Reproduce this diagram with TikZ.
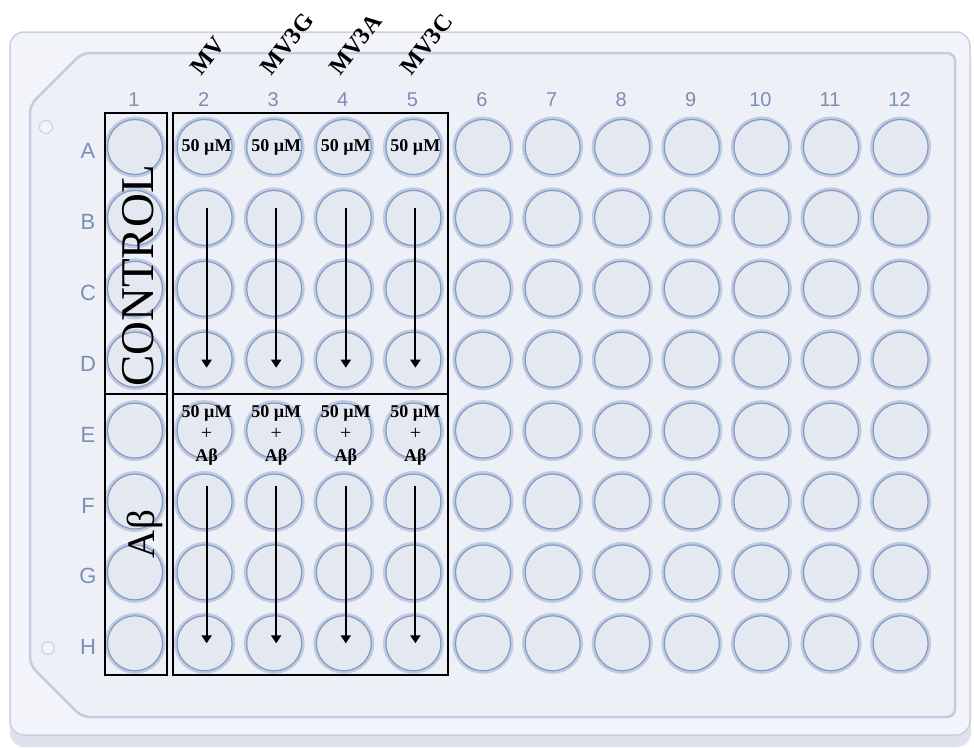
\documentclass[tikz,border=0pt]{standalone}
\usepackage{fontspec}
\setmainfont{Liberation Serif}
\setsansfont{Liberation Sans}
\usepackage{xcolor}
\usepackage{tikz}
\usetikzlibrary{arrows.meta, positioning}

\definecolor{plateside}{HTML}{DDE2EC}
\definecolor{platefill}{HTML}{F2F4F9}
\definecolor{plateedge}{HTML}{C8D0E2}
\definecolor{panelfill}{HTML}{EDF0F7}
\definecolor{paneledge}{HTML}{C3CCE0}
\definecolor{wellfill}{HTML}{E4E8F1}
\definecolor{wellring}{HTML}{8799BC}
\definecolor{wellhalo}{HTML}{BFCBE2}
\definecolor{labelblue}{HTML}{7B8FB5}

\begin{document}
\begin{tikzpicture}[x=1pt, y=-1pt,
  well/.style={circle, minimum size=55pt, inner sep=0pt, fill=wellfill,
               draw=wellring, line width=1.2pt,
               preaction={draw=wellhalo, line width=6pt}},
  collbl/.style={text=labelblue, font=\sffamily\fontsize{20}{22}\selectfont},
  rowlbl/.style={text=labelblue, font=\sffamily\fontsize{22}{24}\selectfont},
  drug/.style={font=\bfseries\fontsize{24}{26}\selectfont, rotate=52,
               anchor=base west, inner sep=0pt},
  conc/.style={font=\bfseries\fontsize{18}{22}\selectfont, align=center,
               inner sep=0pt},
  group/.style={draw=black, line width=1.3pt},
  flow/.style={-{Triangle[length=8pt, width=10pt]}, line width=2pt}
]
\useasboundingbox (0,0) rectangle (974,747);

% plate body
\fill[plateside, rounded corners=14pt] (10,44) rectangle (971,747);
\draw[fill=platefill, draw=plateedge, line width=1.5pt, rounded corners=14pt]
  (10,32) rectangle (970,735);
\draw[fill=panelfill, draw=paneledge, line width=2.5pt, rounded corners=8pt]
  (30,105) -- (82,53) -- (955,53) -- (955,717) -- (82,717) -- (30,665) -- cycle;
\draw[plateedge, fill=platefill, line width=1pt] (46,127) circle (6.5pt);
\draw[plateedge, fill=platefill, line width=1pt] (48,648) circle (6.5pt);

% wells and labels
\foreach \c in {1,...,12}
  \node[collbl] (col\c) at ({134+69.6*(\c-1)}, 100) {\c};
\foreach \r [count=\j from 0] in {A,B,C,D,E,F,G,H} {
  \node[rowlbl] (row\r) at (88, {151+70.9*\j}) {\r};
  \foreach \c in {1,...,12}
    \node[well] (w\r\c) at ({135+69.6*(\c-1)}, {147+70.9*\j}) {};
}

% groups
\draw[group] (105,113) rectangle (167,675);
\draw[group] (105,394) -- (167,394);
\draw[group] (173,113) rectangle (448,675);
\draw[group] (173,394) -- (448,394);

\node[font=\fontsize{47}{50}\selectfont, rotate=90, inner sep=0pt] (ctrl) at (138,276) {CONTROL};
\node[font=\fontsize{39}{42}\selectfont, rotate=90, inner sep=0pt] (abeta) at (145,534) {Aβ};

% compounds
\node[drug] (mv) at (201,77) {MV};
\node[drug] (mv3g) at (271,77) {MV3G};
\node[drug] (mv3a) at (340,77) {MV3A};
\node[drug] (mv3c) at (411,77) {MV3C};

\foreach \c in {2,...,5} {
  \node[conc] (concA\c) at ([xshift=2pt]wA\c.center) {50 µM};
  \node[conc] (concE\c) at ([xshift=2pt, yshift=-5pt]wE\c.center)
    {50 µM\\{\mdseries\fontsize{20}{22}\selectfont +}\\Aβ};
  \draw[flow] ([xshift=2pt, yshift=10pt]wB\c.center) -- ([xshift=2pt, yshift=-8pt]wD\c.center);
  \draw[flow] ([xshift=2pt, yshift=16pt]wF\c.center) -- ([xshift=2pt]wH\c.center);
}

\end{tikzpicture}
\end{document}
